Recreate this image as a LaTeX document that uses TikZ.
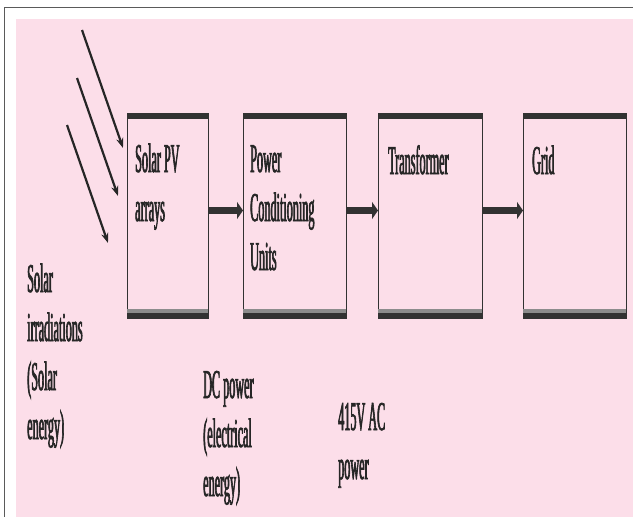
\documentclass[tikz,border=0pt]{standalone}
\usepackage{fontspec}
\newfontfamily\narrowfont[FakeStretch=0.297,FakeBold=1.5]{Liberation Serif}
\definecolor{bgpink}{RGB}{252,222,233}
\definecolor{framegray}{RGB}{90,90,90}
\definecolor{bardark}{RGB}{50,50,50}
\definecolor{barlight}{RGB}{140,140,140}
\usetikzlibrary{arrows.meta,positioning,calc}

\begin{document}
\begin{tikzpicture}[x=1pt, y=-1pt, >=Stealth,
    font=\narrowfont\fontsize{41}{49}\selectfont,
    blockbox/.style={draw=bardark, line width=0.9pt, minimum width=#1,
      minimum height=205pt, inner sep=0pt, outer sep=0pt},
    lbl/.style={align=left, inner sep=0pt, anchor=base west, text=black!85},
    flow/.style={-{Triangle[length=6pt,width=17pt]}, line width=7pt, bardark},
    ray/.style={-{Stealth[length=10pt,width=7pt]}, line width=2.2pt, black!85}]

  \useasboundingbox (0,0) rectangle (633,517);
  \fill[bgpink] (16,19) rectangle (633,517);
  \draw[framegray, line width=1.5pt] (4.5,517) |- (633,7.5);

  % blocks
  \node[blockbox=81pt] (pv) at (167.5,215.5) {};
  \node[blockbox=103pt, right=35pt of pv] (pcu) {};
  \node[blockbox=104pt, right=32pt of pcu] (trafo) {};
  \node[blockbox=103pt, right=41pt of trafo] (grid) {};

  \foreach \b in {pv,pcu,trafo,grid} {
    \fill[bardark] (\b.north west) rectangle ($(\b.north east)+(0,6)$);
    \fill[barlight] ($(\b.south west)+(0,-9)$) rectangle ($(\b.south east)+(0,-5)$);
    \fill[bardark] ($(\b.south west)+(0,-5)$) rectangle (\b.south east);
  }

  % base anchor sits on the last line
  \node[lbl] (pvtxt) at ($(pv.north west)+(8,108)$) {Solar PV\\arrays};
  \node[lbl] (pcutxt) at ($(pcu.north west)+(7,157)$) {Power\\Conditioning\\Units};
  \node[lbl] (trafotxt) at ($(trafo.north west)+(10,61)$) {Transformer};
  \node[lbl] (gridtxt) at ($(grid.north west)+(9,61)$) {Grid};

  \draw[flow] ([yshift=5pt]pv.east) -- ([yshift=5pt]pcu.west);
  \draw[flow] ([yshift=5pt]pcu.east) -- ([yshift=5pt]trafo.west);
  \draw[flow] ([yshift=5pt]trafo.east) -- ([yshift=5pt]grid.west);

  % sun rays
  \foreach \i/\sx/\sy in {1/82/30, 2/77/78, 3/67/125} {
    \coordinate (ray\i s) at (\sx,\sy);
    \coordinate (ray\i e) at ($(ray\i s)+(41,118)$);
    \draw[ray] (ray\i s) -- (ray\i e);
  }

  \node[lbl] (irr) at (27,439) {Solar\\irradiations\\(Solar\\energy)};
  \node[lbl] (dc) at (203,496) {DC power\\(electrical\\energy)};
  \node[lbl] (ac) at (338,479) {415V AC\\power};

\end{tikzpicture}
\end{document}
